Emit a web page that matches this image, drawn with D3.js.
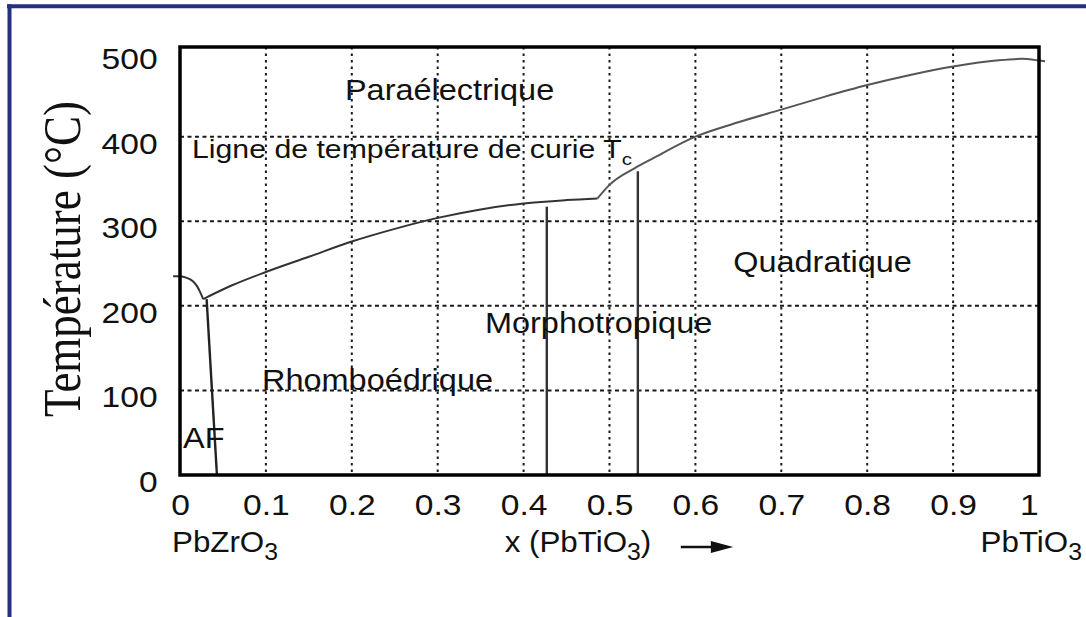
<!DOCTYPE html>
<html>
<head>
<meta charset="utf-8">
<script src="https://cdn.jsdelivr.net/npm/d3@7"></script>
<style>
  body { margin: 0; background: #fff; }
  svg { display: block; }
  text { font-family: "Liberation Sans", Arial, sans-serif; fill: #111; }
</style>
</head>
<body>
<div id="chart"></div>
<script>
// tick values
const xTicks = [0, 0.1, 0.2, 0.3, 0.4, 0.5, 0.6, 0.7, 0.8, 0.9, 1]
const yTicks = [0, 100, 200, 300, 400, 500]
const xGrid = [0.1, 0.2, 0.3, 0.4, 0.5, 0.6, 0.7, 0.8, 0.9]
const yGrid = [100, 200, 300, 400]

// Curie line, below and above the kink near x = 0.486
const curieLowX = [0.027, 0.06, 0.1, 0.15, 0.2, 0.25, 0.3, 0.35, 0.4, 0.45, 0.486]
const curieLowT = [208, 224, 240, 258, 276, 291, 304, 314, 321, 325, 327]
const curieHighX = [0.486, 0.5, 0.53, 0.55, 0.6, 0.65, 0.7, 0.75, 0.8, 0.85, 0.9, 0.95, 0.98, 1.0, 1.007]
const curieHighT = [327, 343, 363, 374, 400, 417, 432, 447, 461, 473, 483, 490, 492, 490, 489]

// small arc from PbZrO3 down to the triple point
const arcX = [-0.008, 0, 0.008, 0.015, 0.02, 0.024, 0.027]
const arcT = [235, 235, 233, 229, 223, 215, 208]

// antiferroelectric boundary
const afX = [0.031, 0.043]
const afT = [208, 0]

// morphotropic boundaries (vertical)
const mpbX = [0.427, 0.533]
const mpbTop = [317, 359]

// region names, anchored in data coordinates (left edge, baseline)
const regionNames = ["Paraélectrique", "Rhomboédrique", "Morphotropique", "Quadratique", "AF"]
const regionX = [0.192, 0.0955, 0.355, 0.644, 0.0035]
const regionT = [443, 101, 168, 240, 32]

const W = 1086, H = 617
const margin = {left: 180, right: 47, top: 47, bottom: 142}
const stretch = 1.12   // the original's text is slightly wide

const svg = d3.select("#chart").append("svg")
  .attr("width", W).attr("height", H)

svg.append("rect").attr("width", W).attr("height", H).attr("fill", "#fff")

// navy frame of the screenshot
svg.append("line").attr("x1", 7).attr("x2", W).attr("y1", 6.3).attr("y2", 6.3)
  .attr("stroke", "#262f80").attr("stroke-width", 4)
svg.append("line").attr("x1", 9.5).attr("x2", 9.5).attr("y1", 4.3).attr("y2", H)
  .attr("stroke", "#262f80").attr("stroke-width", 4)

const x = d3.scaleLinear().domain([0, 1]).range([margin.left, W - margin.right])
const y = d3.scaleLinear().domain([0, 506]).range([H - margin.bottom, margin.top])

// grid
svg.append("g").selectAll("line").data(xGrid).enter().append("line")
  .attr("x1", d => x(d)).attr("x2", d => x(d))
  .attr("y1", y(506)).attr("y2", y(0))
  .attr("stroke", "#1a1a1a").attr("stroke-width", 2)
  .attr("stroke-dasharray", "2.5,4")

svg.append("g").selectAll("line").data(yGrid).enter().append("line")
  .attr("x1", x(0)).attr("x2", x(1))
  .attr("y1", d => y(d)).attr("y2", d => y(d))
  .attr("stroke", "#1a1a1a").attr("stroke-width", 2)
  .attr("stroke-dasharray", "4,3.5")

// axes (labels only)
const xAxis = svg.append("g")
  .attr("transform", `translate(0,${y(0)})`)
  .call(d3.axisBottom(x).tickValues(xTicks).tickSize(0).tickPadding(19).tickFormat(d => String(d)))
xAxis.select(".domain").remove()
xAxis.selectAll("text")
  .style("font-size", "30px").style("font-family", "Liberation Sans, Arial, sans-serif").attr("fill", "#111")
  .attr("transform", `scale(${stretch},1)`)
xAxis.selectAll(".tick").filter(d => d === 1).select("text").attr("dx", -9)

const yAxis = svg.append("g")
  .attr("transform", `translate(${x(0)},0)`)
  .call(d3.axisLeft(y).tickValues(yTicks).tickSize(0).tickPadding(20))
yAxis.select(".domain").remove()
yAxis.selectAll("text")
  .style("font-size", "30px").style("font-family", "Liberation Sans, Arial, sans-serif").attr("fill", "#111")
  .attr("dy", "0.55em")
  .attr("transform", `scale(${stretch},1)`)

// phase boundaries
const line = d3.line().x(d => x(d[0])).y(d => y(d[1]))
const smooth = d3.line().x(d => x(d[0])).y(d => y(d[1])).curve(d3.curveMonotoneX)

svg.append("path").datum(d3.zip(curieLowX, curieLowT)).attr("d", smooth)
  .attr("fill", "none").attr("stroke", "#333").attr("stroke-width", 2)
svg.append("path").datum(d3.zip(curieHighX, curieHighT)).attr("d", smooth)
  .attr("fill", "none").attr("stroke", "#555").attr("stroke-width", 2)
svg.append("path").datum(d3.zip(arcX, arcT)).attr("d", smooth)
  .attr("fill", "none").attr("stroke", "#333").attr("stroke-width", 2)
svg.append("path").datum(d3.zip(afX, afT)).attr("d", line)
  .attr("fill", "none").attr("stroke", "#222").attr("stroke-width", 2.4)

svg.append("g").selectAll("line").data(d3.zip(mpbX, mpbTop)).enter().append("line")
  .attr("x1", d => x(d[0])).attr("x2", d => x(d[0]))
  .attr("y1", d => y(d[1])).attr("y2", y(0))
  .attr("stroke", "#333").attr("stroke-width", 2.4)

// plot frame
svg.append("rect")
  .attr("x", x(0)).attr("y", y(506))
  .attr("width", x(1) - x(0)).attr("height", y(0) - y(506))
  .attr("fill", "none").attr("stroke", "#000").attr("stroke-width", 3.5)

// region labels
svg.append("g").selectAll("text").data(d3.zip(regionNames, regionX, regionT)).enter().append("text")
  .attr("transform", d => `translate(${x(d[1])},${y(d[2])}) scale(${stretch},1)`)
  .style("font-size", "29px")
  .text(d => d[0])

const curieLabel = svg.append("text")
  .attr("transform", `translate(${x(0.014)},${y(375)}) scale(1.21,1)`)
  .style("font-size", "25px")
curieLabel.append("tspan").text("Ligne de température de curie T")
curieLabel.append("tspan").attr("dy", 7).style("font-size", "17px").text("c")

// bottom labels
function formula(g, parts) {
  g.append("tspan").text(parts[0])
  g.append("tspan").attr("dy", 8).style("font-size", "23px").text(parts[1])
  if (parts[2]) g.append("tspan").attr("dy", -8).text(parts[2])
}

const left = svg.append("text")
  .attr("transform", `translate(${x(0) - 8},${y(0) + 77}) scale(1.08,1)`)
  .style("font-size", "29px")
formula(left, ["PbZrO", "3"])

const right = svg.append("text")
  .attr("transform", `translate(${x(1) + 43},${y(0) + 77}) scale(1.08,1)`)
  .attr("text-anchor", "end")
  .style("font-size", "29px")
formula(right, ["PbTiO", "3"])

const mid = svg.append("text")
  .attr("transform", `translate(${x(0.378)},${y(0) + 77}) scale(1.08,1)`)
  .style("font-size", "29px")
formula(mid, ["x (PbTiO", "3", ")"])

// arrow
const ay = y(0) + 72
svg.append("line").attr("x1", x(0.583)).attr("x2", x(0.625)).attr("y1", ay).attr("y2", ay)
  .attr("stroke", "#111").attr("stroke-width", 2.5)
svg.append("path")
  .attr("d", `M${x(0.618)},${ay - 6}L${x(0.644)},${ay}L${x(0.618)},${ay + 6}Z`)
  .attr("fill", "#111")

// y title (serif)
svg.append("text")
  .attr("transform", `translate(80,${(y(0) + y(506)) / 2 - 2}) scale(1.15,1) rotate(-90)`)
  .attr("text-anchor", "middle")
  .style("font-family", "Liberation Serif, Times New Roman, serif")
  .style("font-size", "45px")
  .text("Température (°C)")
</script>
</body>
</html>
